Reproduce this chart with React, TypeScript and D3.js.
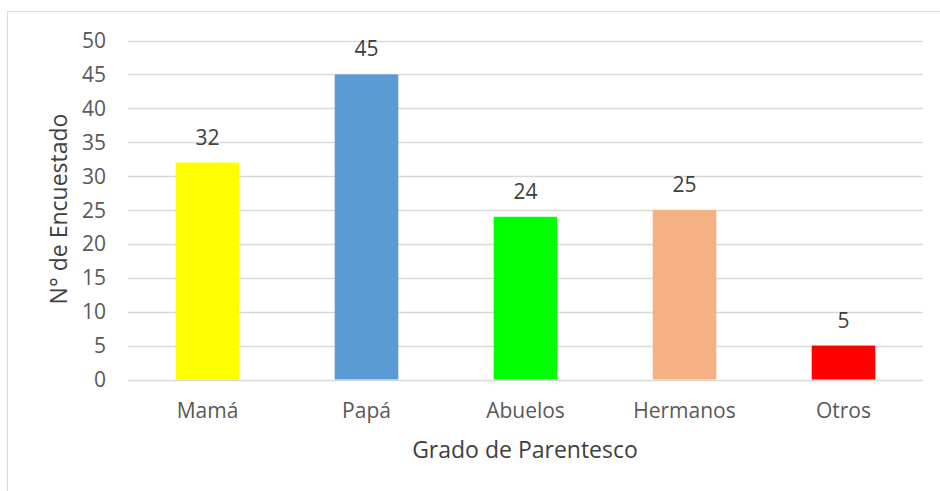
import React from "react";
import * as d3 from "d3";

const categories = ["Mamá", "Papá", "Abuelos", "Hermanos", "Otros"];
const values = [32, 45, 24, 25, 5];
const barColors = ["#FFFF00", "#5B9BD5", "#00FF00", "#F4B183", "#FF0000"];
const yTicks = [0, 5, 10, 15, 20, 25, 30, 35, 40, 45, 50];
const yTitle = "N° de Encuestado";
const xTitle = "Grado de Parentesco";

const W = 940;
const H = 491;
const FONT = "'Open Sans', sans-serif";

export default function App() {
  const x = d3.scaleBand<string>().domain(categories).range([128, 923]).paddingInner(0.6).paddingOuter(0.3);
  const y = d3.scaleLinear().domain([0, 50]).range([379.5, 40.5]);

  return (
    <svg width={W} height={H} style={{ position: "absolute", left: 0, top: 0, background: "#fff" }}>
      <rect x={7.5} y={11.5} width={W + 20} height={H + 20} fill="#fff" stroke="#d9d9d9" strokeWidth={1} />
      {yTicks.map((t) => (
        <g key={t}>
          <line x1={128} x2={923} y1={Math.round(y(t)) + 0.5} y2={Math.round(y(t)) + 0.5} stroke="#d9d9d9" strokeWidth={1.3} />
          <text x={106} y={y(t)} dy="0.36em" textAnchor="end" fontFamily={FONT} fontSize={21} fill="#595959">
            {t}
          </text>
        </g>
      ))}
      {categories.map((c, i) => (
        <g key={c}>
          <rect x={x(c)} y={y(values[i])} width={x.bandwidth()} height={y(0) - y(values[i])} fill={barColors[i]} />
          <text x={(x(c) ?? 0) + x.bandwidth() / 2} y={y(values[i]) - 18} textAnchor="middle" fontFamily={FONT} fontSize={21} fill="#404040">
            {values[i]}
          </text>
          <text x={(x(c) ?? 0) + x.bandwidth() / 2} y={418} textAnchor="middle" fontFamily={FONT} fontSize={21} fill="#595959">
            {c}
          </text>
        </g>
      ))}
      <text transform="translate(67,209) rotate(-90)" textAnchor="middle" fontFamily={FONT} fontSize={23} fill="#404040">
        {yTitle}
      </text>
      <text x={525} y={458} textAnchor="middle" fontFamily={FONT} fontSize={23} fill="#404040">
        {xTitle}
      </text>
    </svg>
  );
}
